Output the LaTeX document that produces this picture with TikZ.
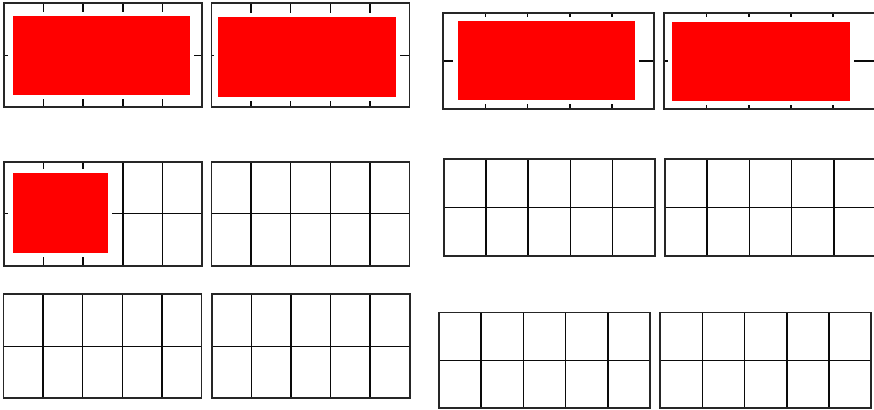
\documentclass[tikz,border=0pt]{standalone}
\usepackage{xcolor}
\definecolor{FrameGrey}{HTML}{262626}
\definecolor{CellInk}{HTML}{0a0a0a}
\definecolor{BlockRed}{HTML}{ff0000}
\usepackage{tikz}
\usetikzlibrary{positioning}

% grid of 5 x 2 cells: left, top, width, height
\newcommand{\cellgrid}[4]{%
  \foreach \k in {1,...,4}
    \draw[cell] ({#1+\k*#3/5},#2) -- ({#1+\k*#3/5},{#2+#4});
  \draw[cell] (#1,{#2+#4/2}) -- ({#1+#3},{#2+#4/2});
}
% outer frame: left, top, width, height
\newcommand{\cellframe}[4]{%
  \draw[box] (#1,#2) rectangle ({#1+#3},{#2+#4});
}
% red block with white halo: x1, y1, x2, y2
\newcommand{\redblock}[4]{%
  \fill[halo] ({#1-4.3},{#2-4.2}) rectangle ({#3+4.3},{#4+4.2});
  \fill[blob] (#1,#2) rectangle (#3,#4);
}

\begin{document}
\begin{tikzpicture}[
  x=1pt, y=-1pt,
  box/.style={draw=FrameGrey, line width=1.9pt, line join=miter},
  cell/.style={draw=CellInk, line width=1.5pt},
  halo/.style={fill=white},
  blob/.style={fill=BlockRed},
]
\useasboundingbox[fill=white] (0,0) rectangle (874,409);

%% -- Left group ----------------------------------------------
\cellgrid{4}{3.3}{198}{104}
\cellgrid{211.5}{3.3}{198}{104}
\cellgrid{4}{161.7}{198}{104}
\cellgrid{211.5}{161.7}{198}{104}
\cellgrid{3.5}{294.3}{198}{104}
\cellgrid{211.7}{294.3}{198}{104}

\redblock{12.7}{16}{190}{95.3}
\redblock{218.3}{17.3}{395.7}{97}
\redblock{12.7}{173.3}{108}{252.7}

\cellframe{4}{3.3}{198}{104}
\cellframe{211.5}{3.3}{198}{104}
\cellframe{4}{161.7}{198}{104}
\cellframe{211.5}{161.7}{198}{104}
\cellframe{3.5}{294.3}{198}{104}
\cellframe{211.7}{294.3}{198}{104}

%% -- Right group ---------------------------------------------
\cellgrid{443.3}{12.9}{211}{96.4}
\cellgrid{664.4}{12.9}{211}{96.4}
\cellgrid{443.8}{159.3}{211}{96.4}
\cellgrid{665}{159.3}{211}{96.4}
\cellgrid{439}{312.5}{211}{95.7}
\cellgrid{660.2}{312.5}{211}{95.7}

\redblock{457.7}{21.3}{634.7}{100.3}
\redblock{672.3}{21.7}{849.7}{100.7}

\cellframe{443.3}{12.9}{211}{96.4}
\cellframe{664.4}{12.9}{211}{96.4}
\cellframe{443.8}{159.3}{211}{96.4}
\cellframe{665}{159.3}{211}{96.4}
\cellframe{439}{312.5}{211}{95.7}
\cellframe{660.2}{312.5}{211}{95.7}

\end{tikzpicture}
\end{document}
